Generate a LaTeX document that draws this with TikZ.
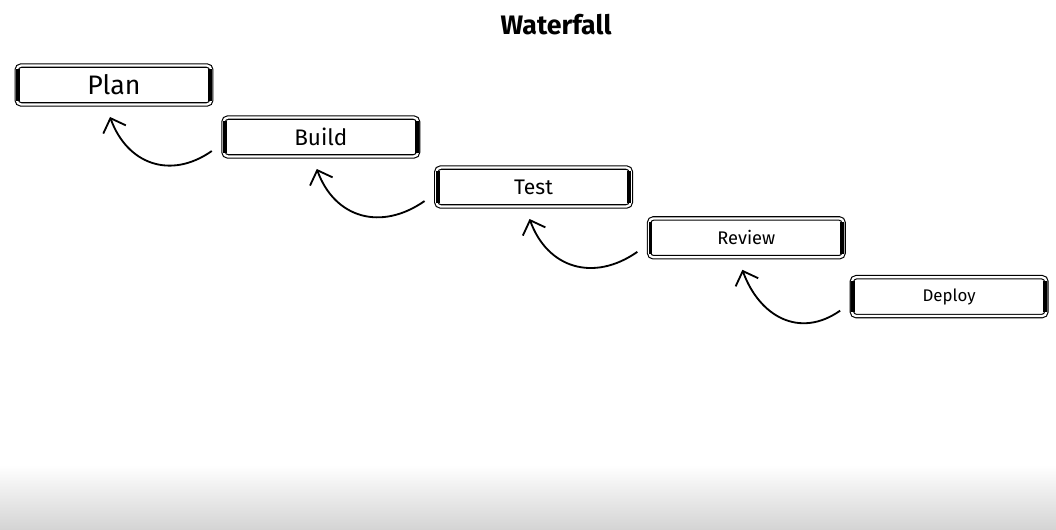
\documentclass[tikz,border=0pt]{standalone}
\usepackage{fontspec}
\setmainfont{Fira Sans}
\usetikzlibrary{positioning,arrows.meta}

\begin{document}
\begin{tikzpicture}[x=0.025cm,y=-0.025cm,
		stagebox/.style={draw,double,double distance=1.6pt,line width=0.8pt,rounded corners=3pt,minimum width=4.86cm,minimum height=0.97cm,inner sep=0pt},
		backarrow/.style={line width=1.3pt,-{Straight Barb[length=3mm,width=6mm]}}]
		\useasboundingbox (0,0) rectangle (1056,530);
		\shade[top color=white,bottom color=black!17] (0,465) rectangle (1056,530);

		\node[font=\bfseries\fontsize{19}{23}\selectfont]										(title)		at (556,25)	{Waterfall};

		\node[stagebox,font=\fontsize{19}{22}\selectfont]										(plan)		at (114,85)	{Plan};
		\node[stagebox,node distance=2.8mm,right=of plan,yshift=-1.3cm,font=\fontsize{16}{19}\selectfont]		(build)		{Build};
		\node[stagebox,node distance=4.3mm,right=of build,yshift=-1.25cm,font=\fontsize{15}{18}\selectfont]		(test)		{Test};
		\node[stagebox,node distance=4.3mm,right=of test,yshift=-1.27cm,font=\fontsize{13}{16}\selectfont]		(review)	{Review};
		\node[stagebox,node distance=1.8mm,right=of review,yshift=-1.47cm,font=\fontsize{12}{15}\selectfont]	(deploy)	{Deploy};

		\foreach \s in {plan,build,test,review,deploy} {
			\draw[line width=2.8pt] ([xshift=1.4pt,yshift=-3pt]\s.north west) -- ([xshift=1.4pt,yshift=3pt]\s.south west);
			\draw[line width=2.8pt] ([xshift=-1.4pt,yshift=-3pt]\s.north east) -- ([xshift=-1.4pt,yshift=3pt]\s.south east);
		}

		\draw[backarrow] ([xshift=-2.8mm,yshift=-3.5mm]build.west) to[out=215,in=-70,looseness=1.2] ([xshift=-1mm,yshift=-3mm]plan.south);
		\draw[backarrow] ([xshift=-2.8mm,yshift=-3.5mm]test.west) to[out=215,in=-70,looseness=1.2] ([xshift=-1mm,yshift=-3mm]build.south);
		\draw[backarrow] ([xshift=-2.8mm,yshift=-3.5mm]review.west) to[out=215,in=-70,looseness=1.2] ([xshift=-1mm,yshift=-3mm]test.south);
		\draw[backarrow] ([xshift=-2.8mm,yshift=-3.5mm]deploy.west) to[out=215,in=-70,looseness=1.2] ([xshift=-1mm,yshift=-3mm]review.south);
	\end{tikzpicture}
\end{document}
